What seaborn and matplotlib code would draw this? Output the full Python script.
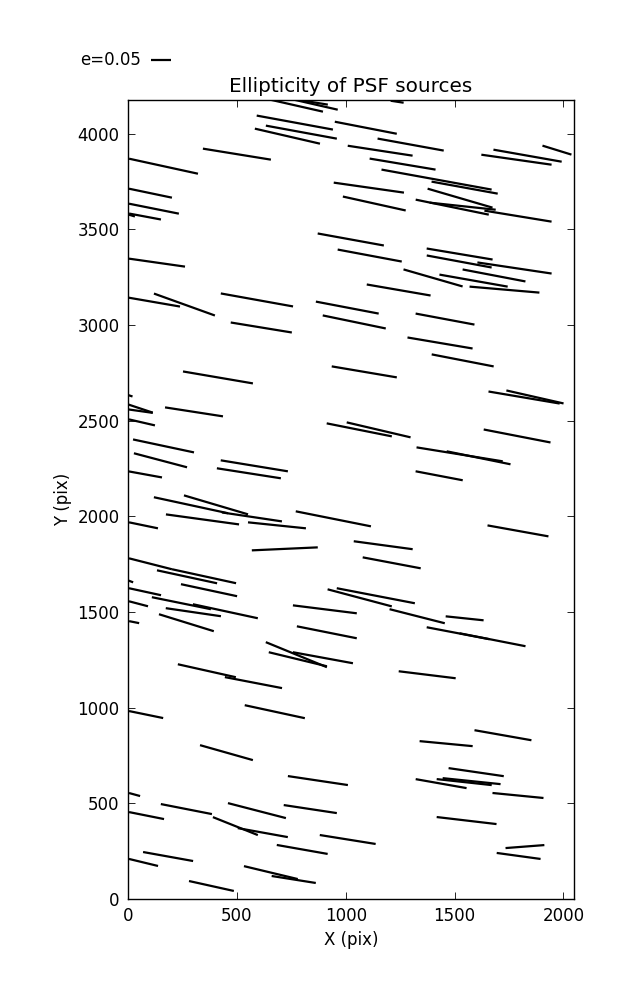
import numpy as np
import pandas as pd
import matplotlib
matplotlib.use('Agg')
import matplotlib.pyplot as plt
from matplotlib.lines import Line2D
import seaborn as sns

# PSF sources on one CCD: position (pix), ellipticity e, position angle (deg)
src_x = [764, 853, 846, 1236, 766, 1092, 796, 732, 1298, 1158, 500, 163, 1261, 1417, 1546,
         1784, 1835, 1970, 103, 119, 78, 9, 1106, 1131, 1525, 1489, 1537, 1791, 1023, 1110,
         133, 1523, 1521, 1775, 1681, 1401, 1587, 1729, 1243, 119, 259, 592, 1007, 1456, 612,
         1039, 1433, 1537, 413, 1085, 1819, 1869, 0, 0, 0, 303, 64, 1062, 1151, 1787,
         163, 1523, 1610, 149, 580, 555, 80, 1429, 289, 404, 342, 569, 684, 943, 71,
         1791, 1172, 720, 1211, 103, 349, 271, 372, 78, 5, 245, 447, 48, 300, 268,
         28, 904, 1064, 1138, 1328, 1546, 913, 1516, 1674, 773, 780, 895, 362, 576, 1374,
         674, 83, 452, 1722, 1461, 1599, 1438, 1544, 1578, 872, 1791, 30, 268, 592, 85,
         837, 493, 619, 1555, 1009, 800, 184, 71, 656, 761, 383, 1823, 1794]
src_y = [4149, 4154, 4165, 4167, 4058, 4031, 4008, 3987, 3943, 3911, 3893, 3830, 3841, 3760, 3718,
         3864, 3885, 3914, 3689, 3608, 3567, 3575, 3718, 3635, 3663, 3616, 3621, 3569, 3447, 3363,
         3326, 3371, 3332, 3298, 3259, 3246, 3232, 3185, 3183, 3120, 3107, 3131, 3091, 3031, 2987,
         3016, 2906, 2815, 2726, 2755, 2621, 2624, 2634, 2585, 2559, 2546, 2491, 2452, 2452, 2420,
         2368, 2324, 2306, 2293, 2264, 2225, 2219, 2212, 2058, 2060, 1984, 1997, 1953, 1987, 1953,
         1924, 1849, 1830, 1757, 1752, 1687, 1684, 1614, 1606, 1663, 1546, 1504, 1543, 1499, 1444,
         1447, 1514, 1574, 1585, 1478, 1467, 1394, 1389, 1355, 1277, 1253, 1261, 1193, 1131, 1172,
         979, 964, 765, 856, 812, 663, 603, 611, 616, 619, 541, 546, 470, 462, 436,
         470, 381, 347, 410, 311, 259, 222, 191, 138, 102, 68, 274, 225]
src_e = [0.143, 0.120, 0.077, 0.032, 0.189, 0.154, 0.176, 0.163, 0.164, 0.160, 0.168, 0.172, 0.163, 0.273, 0.164,
         0.173, 0.169, 0.074, 0.107, 0.124, 0.079, 0.025, 0.173, 0.157, 0.165, 0.182, 0.162, 0.166, 0.164, 0.159,
         0.138, 0.163, 0.161, 0.183, 0.156, 0.150, 0.169, 0.171, 0.158, 0.129, 0.158, 0.179, 0.156, 0.146, 0.151,
         0.157, 0.161, 0.154, 0.173, 0.161, 0.176, 0.143, 0.023, 0.127, 0.122, 0.143, 0.065, 0.162, 0.160, 0.166,
         0.152, 0.213, 0.159, 0.134, 0.166, 0.158, 0.082, 0.117, 0.185, 0.163, 0.180, 0.148, 0.142, 0.187, 0.072,
         0.151, 0.145, 0.161, 0.144, 0.108, 0.160, 0.150, 0.140, 0.080, 0.021, 0.147, 0.162, 0.048, 0.136, 0.140,
         0.025, 0.157, 0.162, 0.194, 0.139, 0.093, 0.149, 0.156, 0.164, 0.161, 0.146, 0.149, 0.145, 0.142, 0.140,
         0.150, 0.085, 0.134, 0.141, 0.130, 0.136, 0.126, 0.135, 0.142, 0.148, 0.125, 0.028, 0.127, 0.146, 0.087,
         0.131, 0.118, 0.124, 0.147, 0.138, 0.126, 0.124, 0.073, 0.135, 0.109, 0.112, 0.095, 0.108]
src_pa = [-12.8, -12.9, -9.2, -8.7, -10.4, -11.0, -10.4, -13.0, -10.3, -8.7, -9.2, -12.3, -9.5, -10.3, -10.3,
          -8.1, -10.0, -17.2, -11.8, -11.3, -10.6, -16.7, -8.1, -12.5, -16.3, -11.6, -6.1, -9.3, -10.3, -10.6,
          -8.1, -9.5, -10.5, -8.5, -10.8, -16.1, -10.0, -4.9, -9.8, -9.8, -19.8, -10.2, -10.8, -10.6, -9.3,
          -11.7, -9.6, -11.0, -9.7, -9.6, -9.6, -12.8, -18.0, -18.4, -8.0, -8.8, -13.0, -11.3, -13.2, -11.0,
          -12.0, -9.2, -11.5, -14.8, -9.3, -8.9, -10.3, -10.8, -12.2, -16.5, -7.8, -8.5, -5.9, -11.3, -11.7,
          -10.2, -7.7, 2.6, -10.7, -14.3, -12.3, -12.2, -12.1, -12.3, -20.6, -11.5, -12.2, -14.7, -8.3, -17.2,
          -11.3, -7.1, -14.9, -10.9, -14.3, -6.0, -11.3, -10.8, -11.1, -22.3, -13.6, -10.4, -12.6, -10.9, -7.0,
          -12.2, -11.6, -15.8, -10.0, -5.4, -8.3, -10.0, -6.2, -5.9, -8.5, -5.6, -15.3, -11.1, -14.5, -11.3,
          -8.6, -21.8, -10.2, -6.7, -9.1, -10.0, -10.2, -13.6, -13.5, -9.0, -12.5, 4.4, -7.8]

KEY_E = 0.05
KEY_LEN_PX = 20.5   # on-screen length of the e=0.05 key whisker
X_MAX, Y_MAX = 2048, 4176

sns.set_theme(style='ticks')
plt.rcParams['font.family'] = ['DejaVu Sans']
plt.rcParams.update({
    'font.size': 12, 'axes.titlesize': 14.4, 'axes.labelsize': 12,
    'xtick.labelsize': 12, 'ytick.labelsize': 12,
    'axes.edgecolor': 'black', 'axes.linewidth': 1.0,
    'xtick.color': 'black', 'ytick.color': 'black', 'text.color': 'black',
    'axes.labelcolor': 'black',
})

fig = plt.figure(figsize=(6.37, 10), dpi=100)
ax = fig.add_axes([0.201, 0.101, 0.70, 0.799])
ax.set_xlim(0, X_MAX)
ax.set_ylim(0, Y_MAX)

# whisker half-lengths in screen pixels -> data units
px_x = ax.bbox.width / X_MAX
px_y = ax.bbox.height / Y_MAX
half = np.array(src_e) * KEY_LEN_PX / KEY_E / 2
t = np.deg2rad(src_pa)
dx = half * np.cos(t) / px_x
dy = half * np.sin(t) / px_y
xs = np.array(src_x, float)
ys = np.array(src_y, float)

n = len(xs)
df = pd.DataFrame({
    'id': np.repeat(np.arange(n), 2),
    'x': np.column_stack([xs - dx, xs + dx]).ravel(),
    'y': np.column_stack([ys - dy, ys + dy]).ravel(),
})
sns.lineplot(data=df, x='x', y='y', units='id', estimator=None, sort=False,
             color='black', lw=1.6, solid_capstyle='butt', ax=ax, legend=False)

ax.set_xlim(0, X_MAX)
ax.set_ylim(0, Y_MAX)
ax.set_xticks(range(0, 2001, 500))
ax.set_yticks(range(0, 4001, 500))
ax.tick_params(direction='in', top=True, right=True, length=5, width=0.6, pad=6)
for s in ax.spines.values():
    s.set_visible(True)
ax.set_xlabel('X (pix)')
ax.set_ylabel('Y (pix)')
ax.set_title('Ellipticity of PSF sources')

# key whisker above the axes
kx, ky = 161 / 637, 1 - 60 / 1000
klen = KEY_LEN_PX / 637
fig.add_artist(Line2D([kx - klen / 2, kx + klen / 2], [ky, ky], color='black',
                      lw=1.6, solid_capstyle='butt', transform=fig.transFigure))
fig.text(kx - klen / 2 - 10 / 637, ky, f'e={KEY_E}', ha='right', va='center', fontsize=12)

fig.savefig('out.png', dpi=100)
